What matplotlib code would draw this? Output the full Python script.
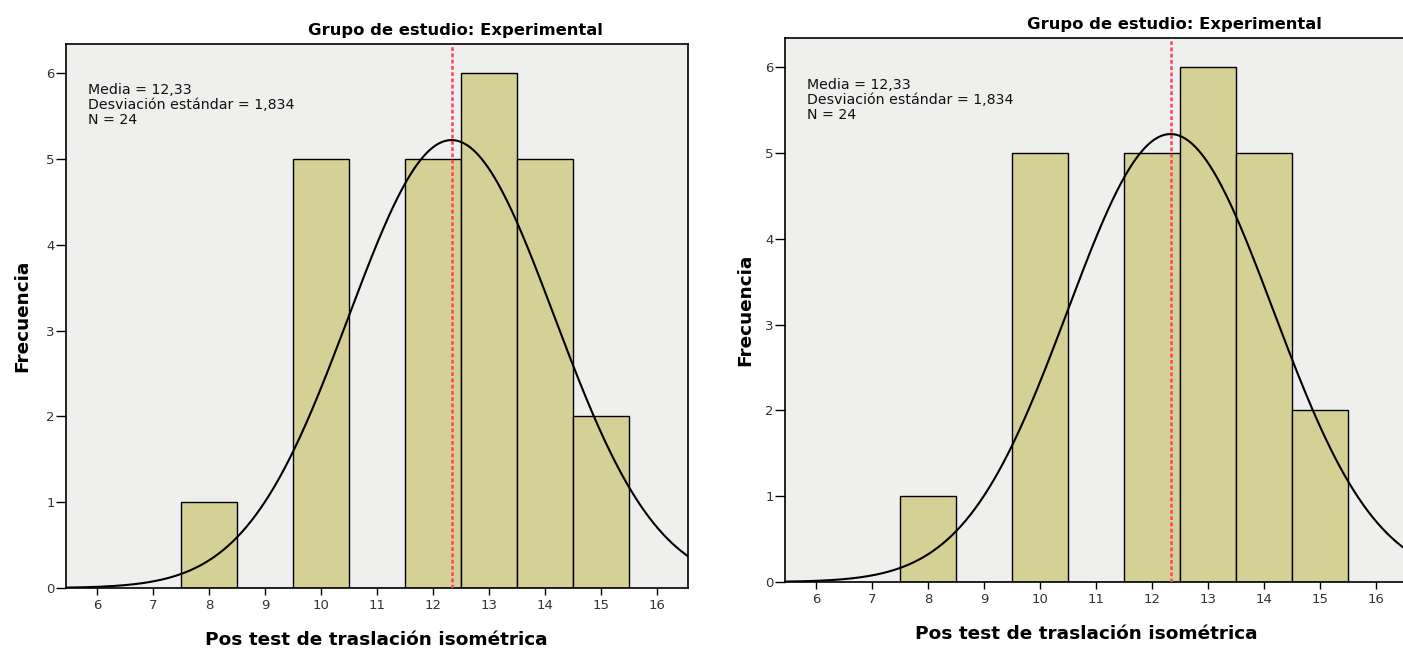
"""
SPSS-style histogram with a normal curve, drawn twice side by side.
"""

import numpy as np
import matplotlib
matplotlib.use("Agg")
import matplotlib.pyplot as plt

plt.rcParams["font.family"] = ["DejaVu Sans"]

# data
bin_centers = [8, 9, 10, 11, 12, 13, 14, 15]
counts = [1, 0, 5, 0, 5, 6, 5, 2]
mean = 12.33
sd = 1.834
n = 24
x_ticks = [6, 7, 8, 9, 10, 11, 12, 13, 14, 15, 16]
y_ticks = [0, 1, 2, 3, 4, 5, 6]
stats_text = "Media = 12,33\nDesviación estándar = 1,834\nN = 24"
title = "Grupo de estudio: Experimental"
xlabel = "Pos test de traslación isométrica"
ylabel = "Frecuencia"

W, H = 1403, 665
BAR_COLOR = "#d5d096"
BG_COLOR = "#efefee"


def px(x0, y0, x1, y1):
    """Axes rectangle from pixel box (top-left origin)."""
    return [x0 / W, 1 - y1 / H, (x1 - x0) / W, (y1 - y0) / H]


def draw_panel(fig, box, title_xy, ylabel_x, xlabel_xy, text_xy):
    ax = fig.add_axes(px(*box))
    ax.set_facecolor(BG_COLOR)
    ax.bar(bin_centers, counts, width=1.0, color=BAR_COLOR,
           edgecolor="black", linewidth=1.0, zorder=2)

    xs = np.linspace(5.45, 16.55, 400)
    ys = n * 1.0 / (sd * np.sqrt(2 * np.pi)) * np.exp(-0.5 * ((xs - mean) / sd) ** 2)
    ax.plot(xs, ys, color="black", linewidth=1.5, zorder=4)
    ax.axvline(mean, color="#ff4060", linestyle=(0, (1.5, 1.0)), linewidth=1.8, zorder=3)

    ax.set_xlim(5.45, 16.55)
    ax.set_ylim(0, 6.34)
    ax.set_xticks(x_ticks)
    ax.set_yticks(y_ticks)
    ax.tick_params(direction="out", width=1, labelsize=9.5, labelcolor="#333333")
    ax.tick_params(axis="x", length=5, pad=3)
    ax.tick_params(axis="y", length=7, pad=1)
    for s in ax.spines.values():
        s.set_linewidth(1.2)
        s.set_color("black")

    fig.text(text_xy[0] / W, 1 - text_xy[1] / H, stats_text, fontsize=10.2,
             va="top", ha="left", linespacing=1.08, color="#111111")
    fig.text(title_xy[0] / W, 1 - title_xy[1] / H, title, fontsize=11.8,
             fontweight="bold", ha="center", va="center")
    fig.text(ylabel_x / W, 1 - (box[1] + box[3]) / 2 / H, ylabel, fontsize=13.3,
             fontweight="bold", rotation=90, ha="center", va="center")
    fig.text(xlabel_xy[0] / W, 1 - xlabel_xy[1] / H, xlabel, fontsize=13.3,
             fontweight="bold", ha="center", va="center")
    return ax


fig = plt.figure(figsize=(W / 100, H / 100), dpi=100)
draw_panel(fig, (66, 44, 688, 588), (455, 30), 22, (376, 640), (88, 83))
draw_panel(fig, (785, 38, 1407, 582), (1174, 25), 745, (1086, 634), (807, 78))
fig.savefig("out.png", dpi=100)
